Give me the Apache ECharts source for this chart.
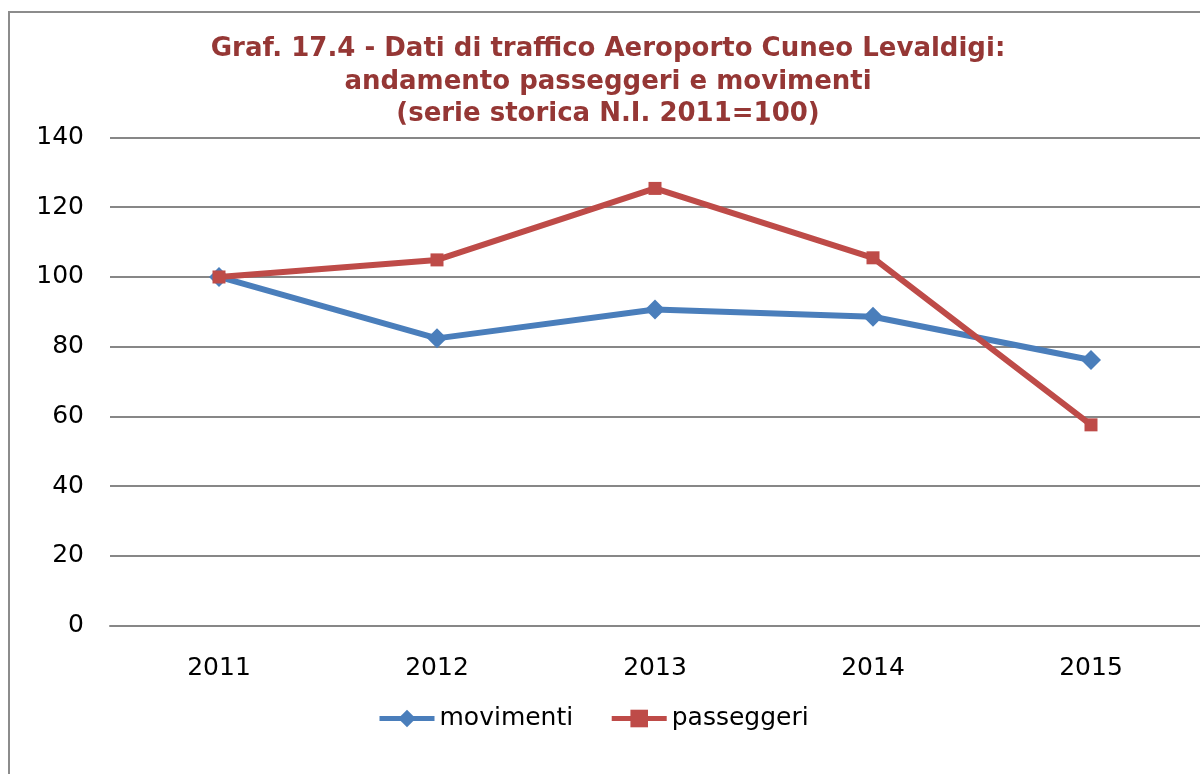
<!DOCTYPE html>
<html>
<head>
<meta charset="utf-8">
<title>Graf. 17.4 - Aeroporto Cuneo Levaldigi</title>
<script src="https://cdn.jsdelivr.net/npm/echarts@6/dist/echarts.min.js"></script>
<style>
  html, body { margin: 0; padding: 0; background: #fff; }
  #chart { width: 1200px; height: 774px; }
</style>
</head>
<body>
<div id="chart"></div>
<script>
// dati (numeri indice, 2011 = 100)
const anni = ["2011", "2012", "2013", "2014", "2015"];
const movimenti = [100, 82.4, 90.7, 88.6, 76.2];
const passeggeri = [100, 104.9, 125.4, 105.5, 57.6];
const nomiSerie = ["movimenti", "passeggeri"];

const font = "DejaVu Sans";
const myChart = echarts.init(document.getElementById("chart"));

const option = {
  backgroundColor: "#fff",
  animation: false,
  title: {
    text: "Graf. 17.4 - Dati di traffico Aeroporto Cuneo Levaldigi:\nandamento passeggeri e movimenti\n(serie storica N.I. 2011=100)",
    left: 603,
    top: 28,
    textAlign: "center",
    textStyle: {
      fontFamily: font,
      fontSize: 26,
      fontWeight: "bold",
      color: "#953735",
      lineHeight: 32.5
    }
  },
  // cornice grigia del grafico
  graphic: [{
    type: "rect",
    shape: { x: 9, y: 12, width: 1220, height: 800 },
    style: { fill: "none", stroke: "#8c8c8c", lineWidth: 2 },
    silent: true
  }],
  legend: {
    data: nomiSerie,
    top: 701,
    left: 372,
    itemWidth: 55,
    itemHeight: 22,
    itemGap: 36,
    lineStyle: { width: 5 },
    textStyle: { fontFamily: font, fontSize: 25, color: "#000" }
  },
  grid: {
    left: 110,
    top: 137.5,
    width: 1093.5,
    height: 488.2,
    containLabel: false
  },
  xAxis: {
    type: "category",
    data: anni,
    boundaryGap: true,
    axisLine: { show: true, lineStyle: { color: "#878787", width: 2 } },
    axisTick: { show: false },
    axisLabel: { fontFamily: font, fontSize: 25, color: "#000", margin: 30 }
  },
  yAxis: {
    type: "value",
    min: 0,
    max: 140,
    interval: 20,
    axisLine: { show: false },
    axisTick: { show: false },
    axisLabel: { fontFamily: font, fontSize: 25, color: "#000", margin: 26 },
    splitLine: { lineStyle: { color: "#878787", width: 2 } }
  },
  series: [
    {
      name: nomiSerie[0],
      type: "line",
      data: movimenti,
      symbol: "diamond",
      symbolSize: 20,
      lineStyle: { color: "#4a7ebb", width: 6 },
      itemStyle: { color: "#4a7ebb" },
      z: 2
    },
    {
      name: nomiSerie[1],
      type: "line",
      data: passeggeri,
      symbol: "rect",
      symbolSize: 13,
      lineStyle: { color: "#be4b48", width: 6 },
      itemStyle: { color: "#be4b48" },
      z: 3
    }
  ]
};

myChart.setOption(option);
</script>
</body>
</html>
